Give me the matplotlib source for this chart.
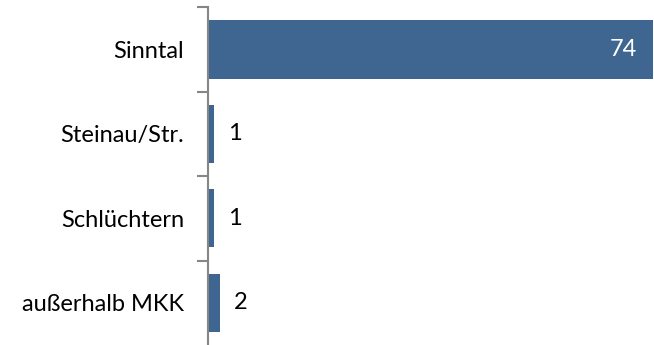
import matplotlib.pyplot as plt

plt.rcParams["font.family"] = ["Lato", "DejaVu Sans"]

categories = ["Sinntal", "Steinau/Str.", "Schlüchtern", "außerhalb MKK"]
values = [74, 1, 1, 2]

BAR_COLOR = "#3E6690"
AXIS_COLOR = "#868686"

fig = plt.figure(figsize=(6.54, 3.45), dpi=100)
ax = fig.add_axes([0.3176, 0.0, 0.6804, 0.979])

y = list(range(len(categories)))
ax.barh(y, values, height=0.69, color=BAR_COLOR)

ax.set_xlim(0, max(values))
ax.set_ylim(len(categories) - 0.5, -0.5)

for yi, val in zip(y, values):
    if val > 0.5 * max(values):
        ax.annotate(str(val), (val, yi), xytext=(-16, 0), textcoords="offset pixels",
                    ha="right", va="center", color="white", fontsize=17)
    else:
        ax.annotate(str(val), (val, yi), xytext=(14, 0), textcoords="offset pixels",
                    ha="left", va="center", color="black", fontsize=17)

ax.set_yticks(y)
ax.set_yticklabels(categories, fontsize=17)
# boundary ticks between categories (none at the very bottom edge)
ax.set_yticks([i - 0.5 for i in range(len(categories))], minor=True)
ax.tick_params(axis="y", which="major", length=0, pad=17)
ax.tick_params(axis="y", which="minor", length=8, width=1.5, color=AXIS_COLOR)
ax.set_xticks([])

for side in ["top", "right", "bottom"]:
    ax.spines[side].set_visible(False)
ax.spines["left"].set_color(AXIS_COLOR)
ax.spines["left"].set_linewidth(1.5)

fig.savefig("out.png", dpi=100)
